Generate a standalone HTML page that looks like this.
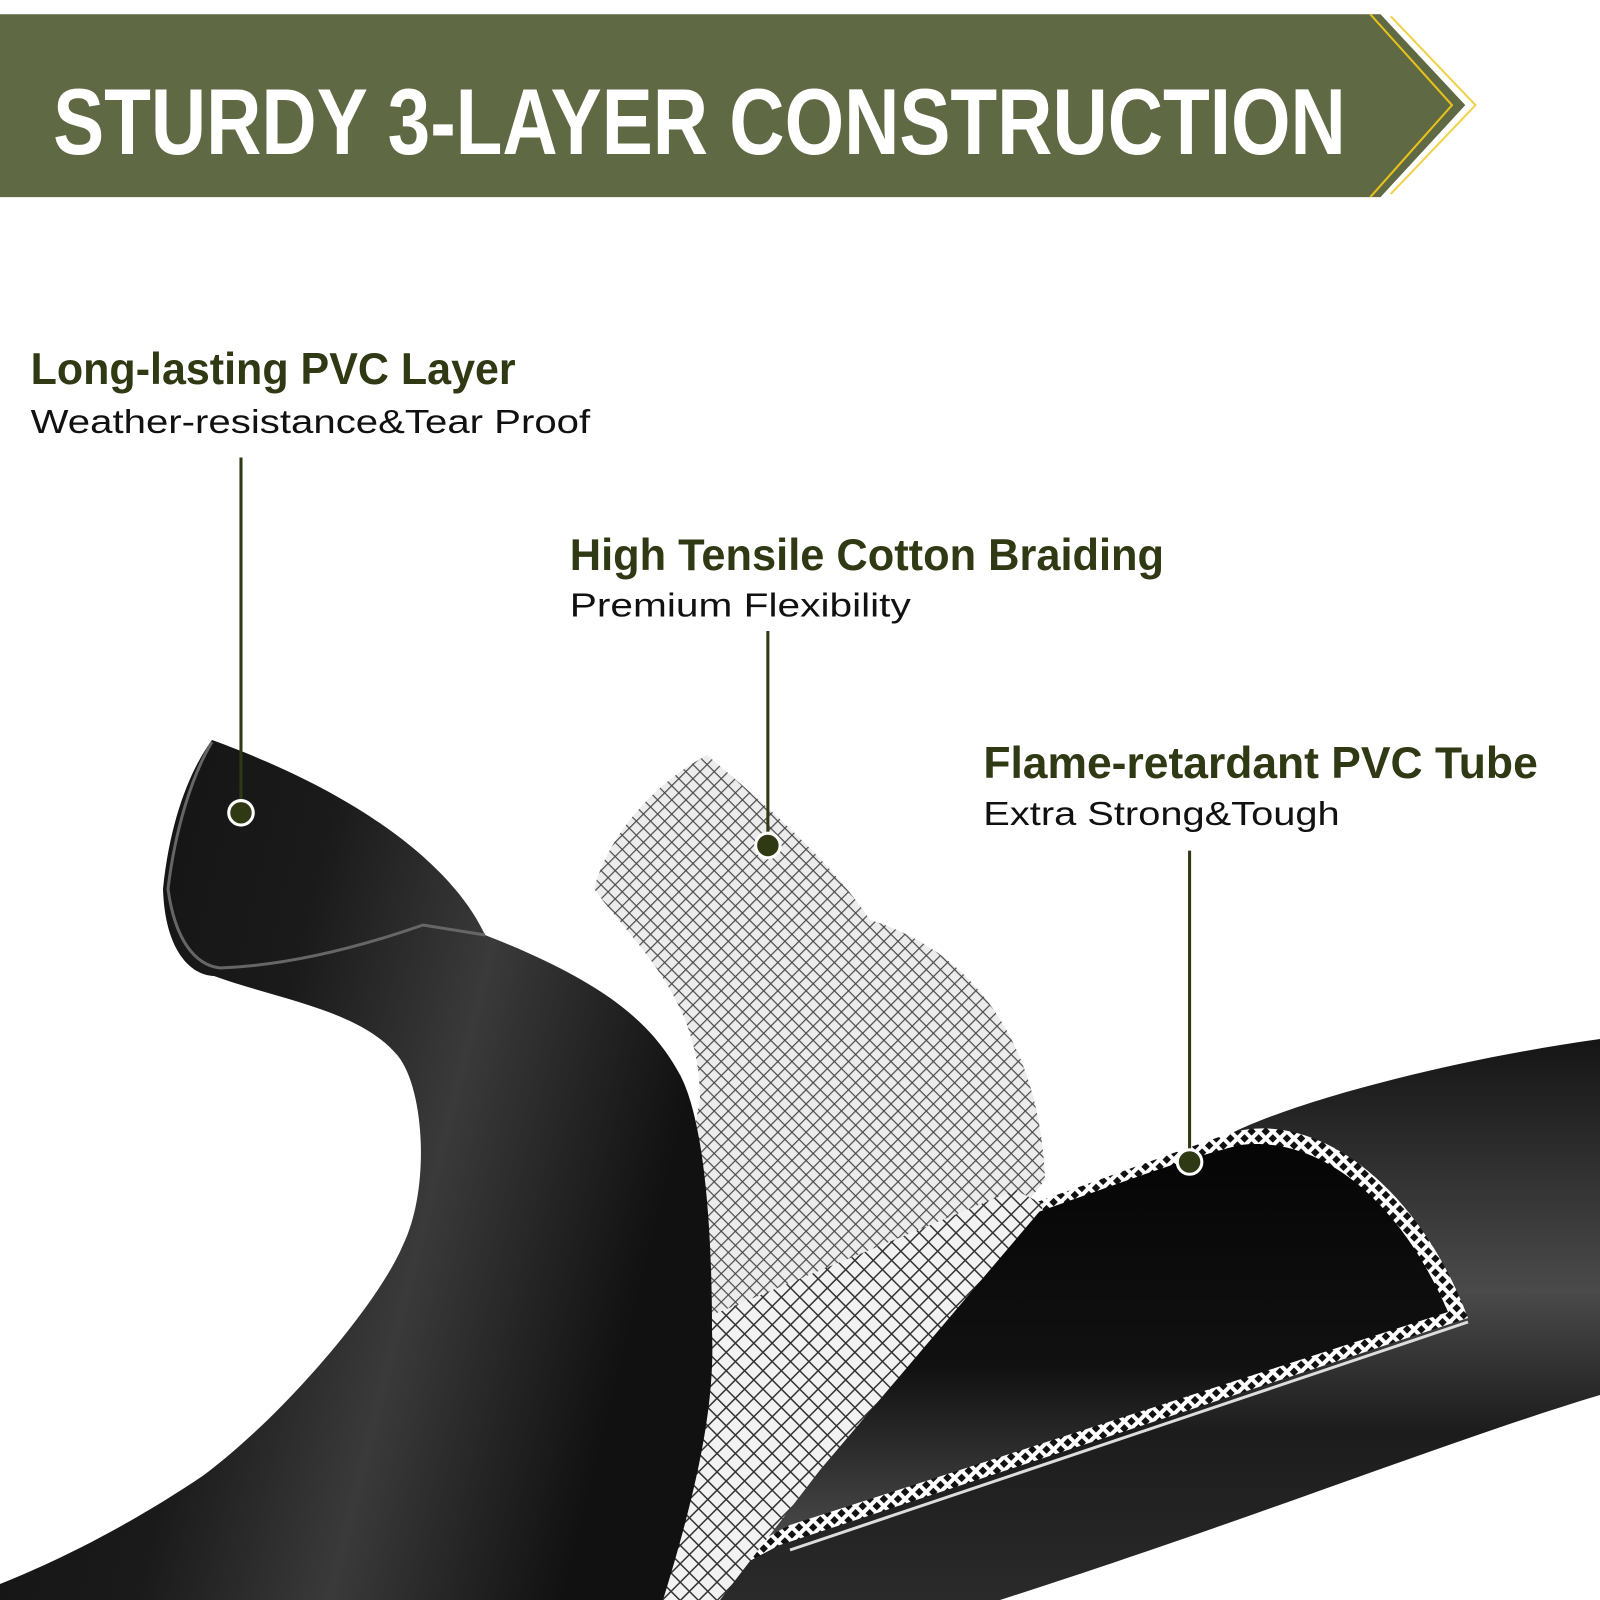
<!DOCTYPE html>
<html><head><meta charset="utf-8"><style>
html,body{margin:0;padding:0;background:#fff;}
svg{display:block;}
</style></head><body>
<svg width="1600" height="1600" viewBox="0 0 1600 1600" xmlns="http://www.w3.org/2000/svg">
<defs>
<pattern id="mesh" width="10" height="10" patternUnits="userSpaceOnUse" patternTransform="rotate(45)">
<rect width="10" height="10" fill="#ececec"/>
<line x1="0" y1="0" x2="0" y2="10" stroke="#4a4a4a" stroke-width="2.4"/>
<line x1="0" y1="0" x2="10" y2="0" stroke="#4a4a4a" stroke-width="2.4"/>
</pattern>
<pattern id="mesh3" width="13" height="13" patternUnits="userSpaceOnUse" patternTransform="rotate(45)">
<rect width="13" height="13" fill="#f2f2f2"/>
<line x1="0" y1="0" x2="0" y2="13" stroke="#333" stroke-width="3"/>
<line x1="0" y1="0" x2="13" y2="0" stroke="#333" stroke-width="3"/>
</pattern>
<pattern id="mesh2" width="10" height="10" patternUnits="userSpaceOnUse" patternTransform="rotate(45)">
<rect width="10" height="10" fill="#fff"/>
<rect x="2" y="2" width="6" height="6" fill="#111"/>
</pattern>
<linearGradient id="lh" x1="0" y1="0" x2="1" y2="0.3">
<stop offset="0" stop-color="#111"/><stop offset="0.45" stop-color="#1a1a1a"/><stop offset="0.7" stop-color="#3a3a3a"/><stop offset="1" stop-color="#111"/>
</linearGradient>
<linearGradient id="rh" x1="0" y1="0" x2="0" y2="1">
<stop offset="0" stop-color="#151515"/><stop offset="0.45" stop-color="#4a4a4a"/><stop offset="0.7" stop-color="#1c1c1c"/><stop offset="1" stop-color="#2a2a2a"/>
</linearGradient>
<linearGradient id="it" x1="0" y1="0" x2="0" y2="1">
<stop offset="0" stop-color="#050505"/><stop offset="0.5" stop-color="#111"/><stop offset="1" stop-color="#5a5a5a"/>
</linearGradient>
</defs>
<rect width="1600" height="1600" fill="#fff"/>
<g transform="scale(1.0211)">
<polygon points="0,14 1352,14 1435,103 1352,193 0,193" fill="#5f6943"/>
<polyline points="1342,14 1422,103 1342,193" fill="none" stroke="#e8c21a" stroke-width="2"/>
<polyline points="1362,16 1445,103 1362,190" fill="none" stroke="#f0d24a" stroke-width="2"/>
<text x="52" y="151" fill="#fff" font-family="Liberation Sans, sans-serif" font-weight="bold" font-size="92" textLength="1266" lengthAdjust="spacingAndGlyphs">STURDY 3-LAYER CONSTRUCTION</text>
</g>

<path d="M594,889 C610,830 660,780 707,755 C760,800 830,860 870,920 C970,950 1040,1040 1045,1180 L1025,1205 C900,1300 760,1450 650,1600 L600,1600 L700,1100 C700,1000 640,950 594,889 Z" fill="url(#mesh)"/>
<path d="M640,1600 C800,1450 1000,1260 1234,1132 C1300,1100 1450,1060 1600,1039 L1600,1395 C1450,1440 1250,1520 1000,1600 Z" fill="url(#rh)"/>
<path d="M1000,1215 C1100,1180 1180,1150 1234,1132 C1320,1110 1420,1190 1468,1318 L780,1545 C740,1565 700,1590 690,1600 L660,1600 Z" fill="url(#mesh2)"/>
<path d="M1010,1222 C1100,1190 1180,1160 1240,1145 C1320,1135 1400,1200 1448,1312 L790,1525 C750,1545 720,1570 700,1590 Z" fill="url(#it)"/>
<path d="M1468,1322 L790,1550" stroke="#ddd" stroke-width="3" fill="none"/>
<path d="M1015,1190 L1045,1205 L820,1470 L720,1600 L630,1600 L700,1320 Z" fill="url(#mesh3)"/>
<path d="M212,740 C190,770 170,820 163,889 C165,950 190,975 214,976 C280,1000 360,1010 398,1056 C425,1090 430,1190 403,1245 C380,1300 290,1410 204,1475 C130,1525 60,1560 0,1584 L0,1600 L663,1600 C700,1480 715,1400 712,1331 C712,1200 700,1110 679,1073 C650,1020 600,980 485,935 C450,860 350,790 212,740 Z" fill="url(#lh)"/>
<path d="M212,742 C192,775 175,830 168,889 C175,940 195,965 220,968 C300,965 380,940 423,925 L485,935" fill="none" stroke="#666" stroke-width="3"/>

<g transform="scale(1.0211)">
<g font-family="Liberation Sans, sans-serif">
<text x="30" y="376" fill="#2f3a14" font-weight="bold" font-size="44" textLength="475" lengthAdjust="spacingAndGlyphs">Long-lasting PVC Layer</text>
<text x="30" y="424" fill="#111" font-size="33" textLength="548" lengthAdjust="spacingAndGlyphs">Weather-resistance&amp;Tear Proof</text>
<text x="558" y="558" fill="#2f3a14" font-weight="bold" font-size="44" textLength="582" lengthAdjust="spacingAndGlyphs">High Tensile Cotton Braiding</text>
<text x="558" y="604" fill="#111" font-size="33" textLength="334" lengthAdjust="spacingAndGlyphs">Premium Flexibility</text>
<text x="963" y="762" fill="#2f3a14" font-weight="bold" font-size="44" textLength="543" lengthAdjust="spacingAndGlyphs">Flame-retardant PVC Tube</text>
<text x="963" y="808" fill="#111" font-size="33" textLength="349" lengthAdjust="spacingAndGlyphs">Extra Strong&amp;Tough</text>
</g>
<g stroke="#2f3a14" stroke-width="3">
<line x1="236" y1="448" x2="236" y2="795"/>
<line x1="752" y1="618" x2="752" y2="828"/>
<line x1="1165" y1="833" x2="1165" y2="1138"/>
</g>
<g fill="#2f3a14" stroke="#fff" stroke-width="3">
<circle cx="236" cy="796" r="12"/>
<circle cx="752" cy="828" r="12"/>
<circle cx="1165" cy="1138" r="12"/>
</g>
</g>
</svg>
</body></html>
